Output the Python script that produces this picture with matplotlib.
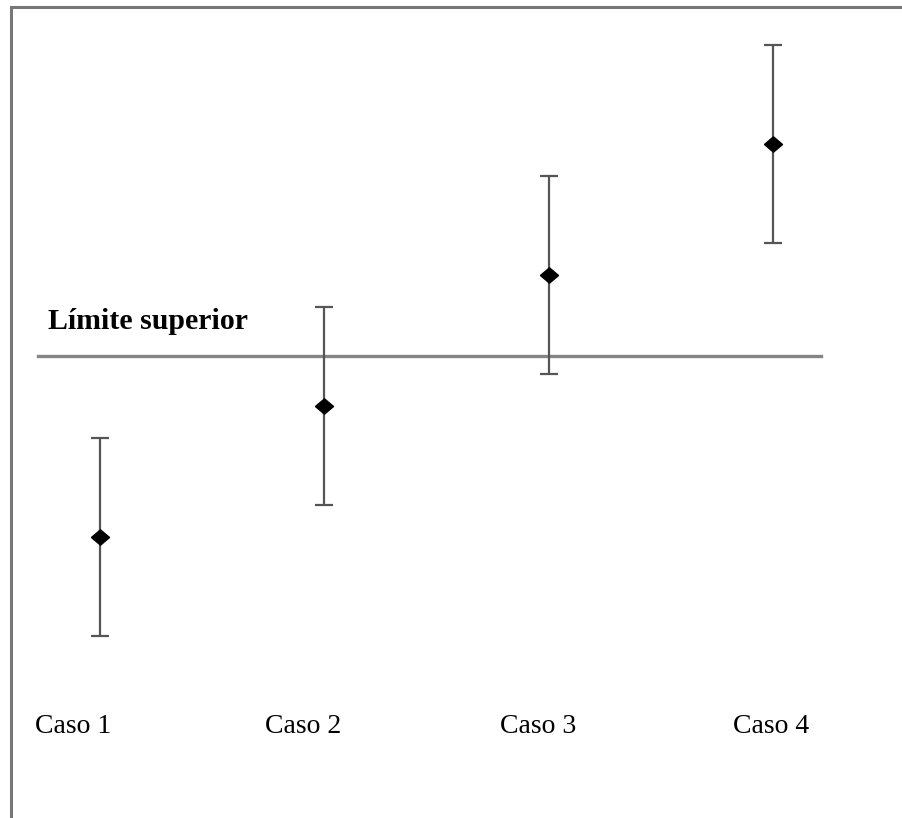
import matplotlib
matplotlib.use("Agg")
import matplotlib.pyplot as plt
from matplotlib.patches import Rectangle

# Data
categories = ["Caso 1", "Caso 2", "Caso 3", "Caso 4"]
centers = [12, 25, 38, 51]
errors = [9.8, 9.8, 9.8, 9.8]
upper_limit = 30
limit_label = "Límite superior"

W, H = 902, 818
fig = plt.figure(figsize=(W / 100, H / 100), dpi=100)
ax = fig.add_axes([0, 0, 1, 1])
ax.set_axis_off()

# scale: x positions 1..4, pixels per unit
px_x0, px_dx = 100.0, 224.3
px_y0, px_dy = 537.0, 10.08
xlim = (1 - px_x0 / px_dx, 1 + (W - px_x0) / px_dx)
ylim = (12 - (H - px_y0) / px_dy, 12 + px_y0 / px_dy)
ax.set_xlim(*xlim)
ax.set_ylim(*ylim)

def fx(px):
    return xlim[0] + px / W * (xlim[1] - xlim[0])

def fy(py):
    return ylim[1] - py / H * (ylim[1] - ylim[0])

xs = list(range(1, len(categories) + 1))

# frame (left and top)
ax.plot([11 / W, 11 / W, 1.0], [0.0, 1 - 7 / H, 1 - 7 / H], transform=ax.transAxes,
        color="#777777", lw=2.2, solid_joinstyle="miter", clip_on=False)

# upper limit line
ax.plot([fx(38), fx(821)], [upper_limit, upper_limit], color="#858585", lw=2.4)
t = ax.text(fx(48), fy(329), limit_label, fontsize=21.5, fontweight="bold",
            family="Liberation Serif", ha="left", va="baseline", color="black")
clip = Rectangle((fx(0), fy(331)), fx(400) - fx(0), fy(280) - fy(331),
                 transform=ax.transData, visible=False)
ax.add_patch(clip)
t.set_clip_path(clip)

# error bars
diamond = [(-1, 0), (0, 0.85), (1, 0), (0, -0.85), (-1, 0)]
ax.errorbar(xs, centers, yerr=errors, fmt="none",
            ecolor="#555555", elinewidth=1.6, capsize=6.5, capthick=1.6, zorder=3)
ax.plot(xs, centers, linestyle="none", marker=diamond, markersize=13,
        color="black", zorder=4)

# category labels
label_px = [35, 265, 500, 733]
for lx, name in zip(label_px, categories):
    ax.text(fx(lx), fy(733), name, fontsize=20, family="Liberation Serif",
            ha="left", va="baseline", color="black")

fig.savefig("out.png", dpi=100)
